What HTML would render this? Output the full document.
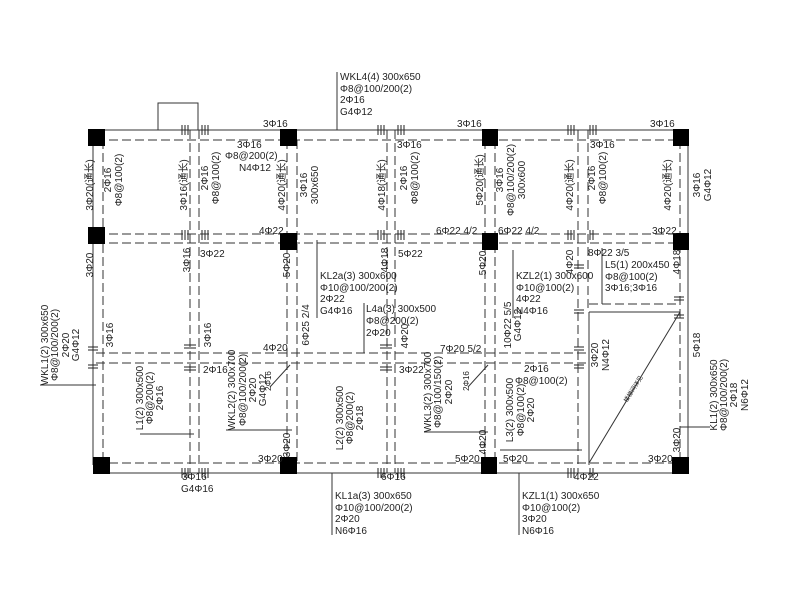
<!DOCTYPE html>
<html><head><meta charset="utf-8"><style>
html,body{margin:0;padding:0;background:#fff;width:800px;height:600px;overflow:hidden}
svg text{font-family:"Liberation Sans Narrow","Liberation Sans","Noto Sans CJK SC",sans-serif;font-size:10px;fill:#222}
</style></head><body>
<svg width="800" height="600" viewBox="0 0 800 600" xmlns="http://www.w3.org/2000/svg">
<g stroke="#333" stroke-width="1" fill="none">
<!-- solid outer lines -->
<line x1="96" y1="130" x2="680" y2="130"/>
<line x1="96" y1="473" x2="680" y2="473"/>
<line x1="93" y1="137" x2="93" y2="465"/>
<line x1="688" y1="137" x2="688" y2="465"/>
<polyline points="158,130 158,103 198,103 198,130"/>
<line x1="589" y1="312" x2="589" y2="465"/>
<line x1="589" y1="312" x2="680" y2="312"/>
<line x1="589" y1="463" x2="680" y2="312"/>
</g>
<g stroke="#333" stroke-width="1" fill="none" stroke-dasharray="9,4">
<line x1="96" y1="140" x2="680" y2="140"/>
<line x1="96" y1="234" x2="680" y2="234"/>
<line x1="96" y1="243" x2="680" y2="243"/>
<line x1="96" y1="353" x2="589" y2="353"/>
<line x1="96" y1="363" x2="589" y2="363"/>
<line x1="589" y1="304" x2="680" y2="304"/>
<line x1="96" y1="463" x2="680" y2="463"/>
<line x1="103" y1="140" x2="103" y2="463"/>
<line x1="190" y1="130" x2="190" y2="473"/>
<line x1="199" y1="130" x2="199" y2="473"/>
<line x1="287" y1="140" x2="287" y2="463"/>
<line x1="297" y1="140" x2="297" y2="463"/>
<line x1="387" y1="130" x2="387" y2="473"/>
<line x1="395" y1="130" x2="395" y2="473"/>
<line x1="485" y1="140" x2="485" y2="463"/>
<line x1="495" y1="140" x2="495" y2="463"/>
<line x1="578" y1="130" x2="578" y2="473"/>
<line x1="588" y1="130" x2="588" y2="312"/>
<line x1="680" y1="140" x2="680" y2="463"/>
</g>
<!-- columns -->
<g fill="#000">
<rect x="88" y="129" width="17" height="17"/><rect x="280" y="129" width="17" height="17"/>
<rect x="482" y="129" width="16" height="17"/><rect x="673" y="129" width="16" height="17"/>
<rect x="88" y="227" width="17" height="17"/><rect x="280" y="233" width="17" height="17"/>
<rect x="482" y="233" width="16" height="17"/><rect x="673" y="233" width="16" height="17"/>
<rect x="93" y="457" width="17" height="17"/><rect x="280" y="457" width="17" height="17"/>
<rect x="481" y="457" width="16" height="17"/><rect x="672" y="457" width="17" height="17"/>
</g>
<!-- tick marks -->
<g stroke="#222" stroke-width="1">
<path d="M182 125v10M185 125v10M188 125v10M202 125v10M205 125v10M208 125v10M378 125v10M381 125v10M384 125v10M398 125v10M401 125v10M404 125v10M568 125v10M571 125v10M574 125v10M590 125v10M593 125v10M596 125v10"/>
<path d="M182 230v10M185 230v10M188 230v10M202 230v10M205 230v10M208 230v10M378 230v10M381 230v10M384 230v10M398 230v10M401 230v10M404 230v10M568 230v10M571 230v10M574 230v10M590 230v10M593 230v10"/>
<path d="M182 468v10M185 468v10M188 468v10M202 468v10M205 468v10M208 468v10M378 468v10M381 468v10M384 468v10M398 468v10M401 468v10M404 468v10M568 468v10M571 468v10M574 468v10M590 468v10M593 468v10"/>
<path d="M88 347h10M88 350h10M88 365h10M88 368h10M184 345h12M184 348h12M184 367h12M184 370h12M380 345h12M380 348h12M380 367h12M380 370h12M574 347h10M574 350h10M574 365h10M574 368h10M674 297h10M674 300h10M674 315h10M674 318h10M574 265h10M574 268h10M574 310h10M574 313h10"/>
</g>
<g stroke="#333" fill="none">
<line x1="337" y1="72" x2="337" y2="130"/>
<line x1="317" y1="240" x2="317" y2="318"/>
<line x1="513" y1="250" x2="513" y2="318"/>
<line x1="602" y1="248" x2="602" y2="304"/>
<line x1="364" y1="303" x2="364" y2="353"/>
<line x1="40" y1="385" x2="96" y2="385"/>
<line x1="140" y1="434" x2="194" y2="434"/>
<line x1="226" y1="430" x2="292" y2="430"/>
<line x1="424" y1="432" x2="488" y2="432"/>
<line x1="500" y1="450" x2="582" y2="450"/>
<line x1="680" y1="427" x2="710" y2="427"/>
<line x1="332" y1="473" x2="332" y2="535"/>
<line x1="519" y1="473" x2="519" y2="535"/>
<line x1="270" y1="387" x2="290" y2="365"/>
<line x1="468" y1="387" x2="488" y2="365"/>
</g>
<!-- horizontal texts -->
<g>
<text x="340" y="80">WKL4(4) 300x650</text><text x="340" y="92">Φ8@100/200(2)</text><text x="340" y="103">2Φ16</text><text x="340" y="115">G4Φ12</text>
<text x="263" y="127">3Φ16</text><text x="457" y="127">3Φ16</text><text x="650" y="127">3Φ16</text>
<text x="237" y="148">3Φ16</text><text x="225" y="159">Φ8@200(2)</text><text x="239" y="171">N4Φ12</text>
<text x="397" y="148">3Φ16</text><text x="590" y="148">3Φ16</text>
<text x="259" y="234">4Φ22</text><text x="436" y="234">6Φ22 4/2</text><text x="498" y="234">6Φ22 4/2</text><text x="652" y="234">3Φ22</text>
<text x="200" y="257">3Φ22</text><text x="398" y="257">5Φ22</text><text x="588" y="256">8Φ22 3/5</text>
<text x="320" y="279">KL2a(3) 300x600</text><text x="320" y="291">Φ10@100/200(2)</text><text x="320" y="302">2Φ22</text><text x="320" y="314">G4Φ16</text>
<text x="516" y="279">KZL2(1) 300x600</text><text x="516" y="291">Φ10@100(2)</text><text x="516" y="302">4Φ22</text><text x="516" y="314">N4Φ16</text>
<text x="605" y="268">L5(1) 200x450</text><text x="605" y="280">Φ8@100(2)</text><text x="605" y="291">3Φ16;3Φ16</text>
<text x="366" y="312">L4a(3) 300x500</text><text x="366" y="324">Φ8@200(2)</text><text x="366" y="336">2Φ20</text>
<text x="263" y="351">4Φ20</text><text x="440" y="352">7Φ20 5/2</text>
<text x="203" y="373">2Φ16</text><text x="399" y="373">3Φ22</text><text x="524" y="372">2Φ16</text><text x="515" y="384">Φ8@100(2)</text>
<text x="258" y="462">3Φ20</text><text x="455" y="462">5Φ20</text><text x="503" y="462">5Φ20</text><text x="648" y="462">3Φ20</text>
<text x="182" y="480">3Φ16</text><text x="181" y="492">G4Φ16</text><text x="381" y="480">6Φ16</text><text x="574" y="480">4Φ22</text>
<text x="335" y="499">KL1a(3) 300x650</text><text x="335" y="511">Φ10@100/200(2)</text><text x="335" y="522">2Φ20</text><text x="335" y="534">N6Φ16</text>
<text x="522" y="499">KZL1(1) 300x650</text><text x="522" y="511">Φ10@100(2)</text><text x="522" y="522">3Φ20</text><text x="522" y="534">N6Φ16</text>
</g>
<!-- vertical texts -->
<g text-anchor="middle">
<text transform="translate(93,185) rotate(-90)">3Φ20(通长)</text>
<text transform="translate(111,180) rotate(-90)">2Φ16</text>
<text transform="translate(122,180) rotate(-90)">Φ8@100(2)</text>
<text transform="translate(187,185) rotate(-90)">3Φ16(通长)</text>
<text transform="translate(208,178) rotate(-90)">2Φ16</text>
<text transform="translate(219,178) rotate(-90)">Φ8@100(2)</text>
<text transform="translate(285,185) rotate(-90)">4Φ20(通长)</text>
<text transform="translate(307,185) rotate(-90)">3Φ16</text>
<text transform="translate(318,185) rotate(-90)">300x650</text>
<text transform="translate(385,185) rotate(-90)">4Φ18(通长)</text>
<text transform="translate(407,178) rotate(-90)">2Φ16</text>
<text transform="translate(418,178) rotate(-90)">Φ8@100(2)</text>
<text transform="translate(483,180) rotate(-90)">5Φ20(通长)</text>
<text transform="translate(503,180) rotate(-90)">3Φ16</text>
<text transform="translate(514,180) rotate(-90)">Φ8@100/200(2)</text>
<text transform="translate(525,180) rotate(-90)">300x600</text>
<text transform="translate(573,185) rotate(-90)">4Φ20(通长)</text>
<text transform="translate(595,178) rotate(-90)">2Φ16</text>
<text transform="translate(606,178) rotate(-90)">Φ8@100(2)</text>
<text transform="translate(671,185) rotate(-90)">4Φ20(通长)</text>
<text transform="translate(700,185) rotate(-90)">3Φ16</text>
<text transform="translate(711,185) rotate(-90)">G4Φ12</text>
<text transform="translate(93,265) rotate(-90)">3Φ20</text>
<text transform="translate(190,260) rotate(-90)">3Φ16</text>
<text transform="translate(290,265) rotate(-90)">5Φ20</text>
<text transform="translate(388,260) rotate(-90)">4Φ18</text>
<text transform="translate(486,263) rotate(-90)">5Φ20</text>
<text transform="translate(573,262) rotate(-90)">4Φ20</text>
<text transform="translate(680,262) rotate(-90)">4Φ18</text>
<text transform="translate(309,325) rotate(-90)">6Φ25 2/4</text>
<text transform="translate(408,336) rotate(-90)">4Φ20</text>
<text transform="translate(511,325) rotate(-90)">10Φ22 5/5</text>
<text transform="translate(521,325) rotate(-90)">G4Φ12</text>
<text transform="translate(113,335) rotate(-90)">3Φ16</text>
<text transform="translate(211,335) rotate(-90)">3Φ16</text>
<text transform="translate(598,355) rotate(-90)">3Φ20</text>
<text transform="translate(609,355) rotate(-90)">N4Φ12</text>
<text transform="translate(700,345) rotate(-90)">5Φ18</text>
<text transform="translate(48,345) rotate(-90)">WKL1(2) 300x650</text>
<text transform="translate(58,345) rotate(-90)">Φ8@100/200(2)</text>
<text transform="translate(69,345) rotate(-90)">2Φ20</text>
<text transform="translate(79,345) rotate(-90)">G4Φ12</text>
<text transform="translate(143,398) rotate(-90)">L1(2) 300x500</text>
<text transform="translate(153,398) rotate(-90)">Φ8@200(2)</text>
<text transform="translate(163,398) rotate(-90)">2Φ16</text>
<text transform="translate(235,390) rotate(-90)">WKL2(2) 300x700</text>
<text transform="translate(246,390) rotate(-90)">Φ8@100/200(2)</text>
<text transform="translate(256,390) rotate(-90)">2Φ20</text>
<text transform="translate(266,390) rotate(-90)">G4Φ12</text>
<text transform="translate(271,381) rotate(-90)" style="font-size:8px">2Φ16</text>
<text transform="translate(343,418) rotate(-90)">L2(2) 300x500</text>
<text transform="translate(353,418) rotate(-90)">Φ8@200(2)</text>
<text transform="translate(363,418) rotate(-90)">2Φ18</text>
<text transform="translate(431,392) rotate(-90)">WKL3(2) 300x700</text>
<text transform="translate(441,392) rotate(-90)">Φ8@100/150(2)</text>
<text transform="translate(452,392) rotate(-90)">2Φ20</text>
<text transform="translate(469,381) rotate(-90)" style="font-size:8px">2Φ16</text>
<text transform="translate(513,410) rotate(-90)">L3(2) 300x500</text>
<text transform="translate(524,410) rotate(-90)">Φ8@100(2)</text>
<text transform="translate(534,410) rotate(-90)">2Φ20</text>
<text transform="translate(290,445) rotate(-90)">3Φ20</text>
<text transform="translate(486,442) rotate(-90)">4Φ20</text>
<text transform="translate(680,440) rotate(-90)">3Φ20</text>
<text transform="translate(717,395) rotate(-90)">KL1(2) 300x650</text>
<text transform="translate(727,395) rotate(-90)">Φ8@100/200(2)</text>
<text transform="translate(737,395) rotate(-90)">2Φ18</text>
<text transform="translate(748,395) rotate(-90)">N6Φ12</text>
<text transform="translate(635,390) rotate(-58)" style="font-size:6px">楼梯间详见</text>
</g>
</svg>
</body></html>
